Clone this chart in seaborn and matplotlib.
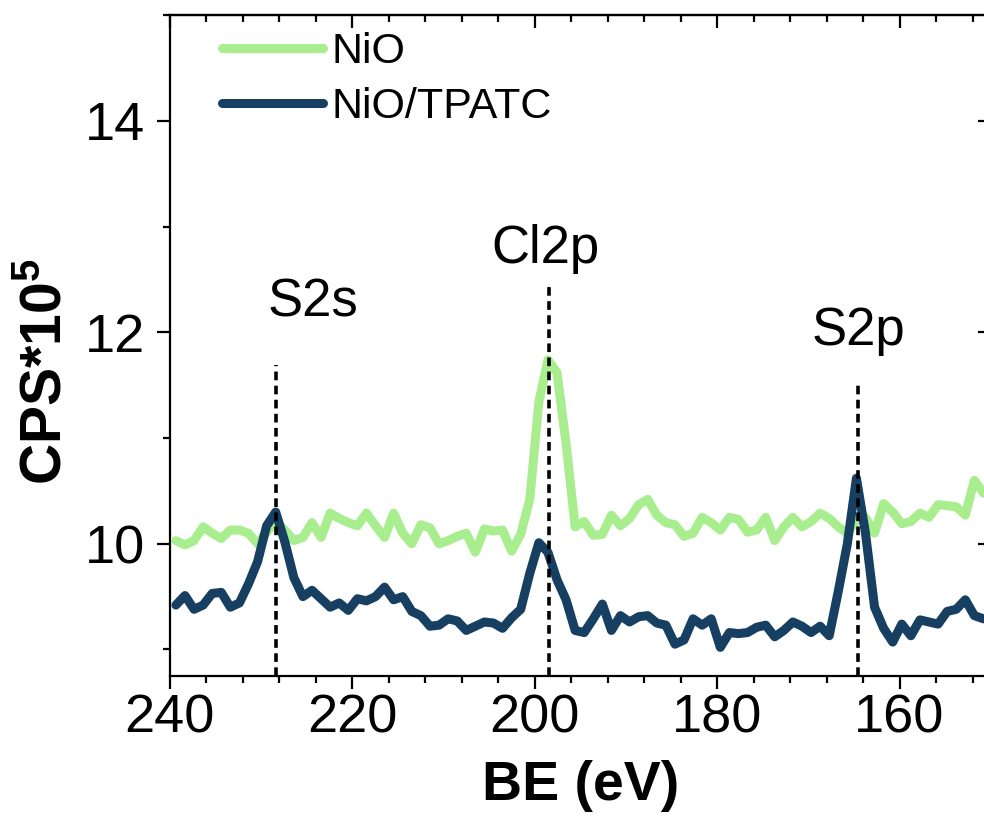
import numpy as np
import pandas as pd
import matplotlib
matplotlib.use("Agg")
import matplotlib.pyplot as plt
import seaborn as sns
from matplotlib.ticker import MultipleLocator

# ---------------- data ----------------
binding_energy = np.linspace(239.3, 150.8, 90)   # eV, measurement grid

nio_cps = [10.03, 9.99, 10.03, 10.16, 10.10, 10.05, 10.13, 10.13, 10.10, 10.00,
           10.11, 10.21, 10.13, 10.03, 10.06, 10.20, 10.06, 10.29, 10.24, 10.20,
           10.17, 10.29, 10.17, 10.06, 10.29, 10.10, 10.00, 10.18, 10.15, 10.00,
           10.03, 10.07, 10.10, 9.92, 10.14, 10.12, 10.13, 9.93, 10.09, 10.42,
           11.34, 11.74, 11.62, 10.95, 10.16, 10.21, 10.08, 10.09, 10.27, 10.17,
           10.24, 10.37, 10.42, 10.27, 10.20, 10.18, 10.07, 10.10, 10.25, 10.20,
           10.13, 10.25, 10.23, 10.11, 10.13, 10.25, 10.03, 10.16, 10.25, 10.16,
           10.21, 10.29, 10.24, 10.16, 10.10, 10.22, 10.25, 10.10, 10.38, 10.30,
           10.19, 10.21, 10.29, 10.25, 10.37, 10.36, 10.35, 10.27, 10.60, 10.48]

tpatc_cps = [9.42, 9.51, 9.38, 9.42, 9.53, 9.54, 9.40, 9.44, 9.62, 9.83,
             10.17, 10.30, 10.02, 9.68, 9.50, 9.56, 9.48, 9.40, 9.44, 9.37,
             9.48, 9.46, 9.50, 9.59, 9.47, 9.50, 9.36, 9.32, 9.22, 9.23,
             9.29, 9.27, 9.18, 9.22, 9.26, 9.25, 9.20, 9.30, 9.38, 9.72,
             10.01, 9.92, 9.66, 9.47, 9.18, 9.16, 9.29, 9.43, 9.18, 9.32,
             9.26, 9.31, 9.32, 9.25, 9.23, 9.05, 9.09, 9.29, 9.23, 9.29,
             9.02, 9.16, 9.15, 9.16, 9.21, 9.23, 9.12, 9.18, 9.26, 9.22,
             9.16, 9.22, 9.13, 9.55, 10.00, 10.62, 10.10, 9.40, 9.20, 9.07,
             9.24, 9.13, 9.28, 9.26, 9.24, 9.36, 9.38, 9.47, 9.32, 9.29]

series_names = ["NiO", "NiO/TPATC"]
series_colors = ["#A9EE8E", "#163F61"]

peak_labels = ["S2s", "Cl2p", "S2p"]
peak_be = [228.33, 198.41, 164.52]
peak_top = [11.69, 12.47, 11.54]
label_be = [224.3, 198.8, 164.45]
label_y = [12.15, 12.66, 11.88]

# ---------------- style ----------------
sns.set_theme(style="ticks")
plt.rcParams["font.family"] = ["Liberation Sans", "DejaVu Sans"]
plt.rcParams["mathtext.fontset"] = "custom"
plt.rcParams["mathtext.rm"] = "Liberation Sans"
plt.rcParams["mathtext.bf"] = "Liberation Sans:bold"
for key in ["text.color", "axes.labelcolor", "xtick.color", "ytick.color", "axes.edgecolor"]:
    plt.rcParams[key] = "black"

df = pd.concat([
    pd.DataFrame({"BE": binding_energy, "CPS": nio_cps, "sample": series_names[0]}),
    pd.DataFrame({"BE": binding_energy, "CPS": tpatc_cps, "sample": series_names[1]}),
], ignore_index=True)

fig = plt.figure(figsize=(9.84, 8.16), dpi=100)
ax = fig.add_axes([0.17226, 0.17169, 0.83460, 0.80962])

sns.lineplot(data=df, x="BE", y="CPS", hue="sample", hue_order=series_names,
             palette=dict(zip(series_names, series_colors)), sort=False,
             estimator=None, linewidth=6.5, ax=ax, legend=False)
for ln in ax.lines:
    ln.set_solid_capstyle("round")
    ln.set_solid_joinstyle("round")

ax.set_xlim(240, 150)
ax.set_ylim(8.75, 15.0)

# dashed peak markers
ax.vlines(peak_be, ymin=8.75, ymax=peak_top, colors="black",
          linestyles=[(0, (2.4, 1.5))], linewidth=2.6, zorder=5)
for lab, xb, yb in zip(peak_labels, label_be, label_y):
    ax.text(xb, yb, lab, fontsize=38, ha="center", va="baseline", color="black")

# ticks
ax.xaxis.set_major_locator(MultipleLocator(20))
ax.xaxis.set_minor_locator(MultipleLocator(4))
ax.yaxis.set_major_locator(MultipleLocator(2))
ax.yaxis.set_minor_locator(MultipleLocator(1))
ax.tick_params(axis="both", which="both", direction="out", top=False, right=False,
               width=1.6, colors="black", labelcolor="black")
ax.tick_params(axis="both", which="major", length=9.4, labelsize=39)
ax.tick_params(axis="both", which="minor", length=5)
ax.tick_params(axis="x", which="major", pad=3)
ax.tick_params(axis="y", which="major", pad=8)
ax.yaxis.set_major_formatter(matplotlib.ticker.FormatStrFormatter("%d"))

secx = ax.secondary_xaxis("top")
secx.xaxis.set_major_locator(MultipleLocator(20))
secx.xaxis.set_minor_locator(MultipleLocator(4))
secx.tick_params(axis="x", which="both", direction="in", labeltop=False, width=1.6,
                 colors="black")
secx.tick_params(axis="x", which="major", length=9.4)
secx.tick_params(axis="x", which="minor", length=5)
secx.spines["top"].set_linewidth(1.6)
secx.spines["top"].set_color("black")

secy = ax.secondary_yaxis("right")
secy.yaxis.set_major_locator(MultipleLocator(2))
secy.yaxis.set_minor_locator(MultipleLocator(1))
secy.tick_params(axis="y", which="both", direction="in", labelright=False, width=1.6,
                 colors="black")
secy.tick_params(axis="y", which="major", length=9.4)
secy.tick_params(axis="y", which="minor", length=5)

for sp in ax.spines.values():
    sp.set_linewidth(1.6)
    sp.set_color("black")

ax.set_xlabel("BE (eV)", fontsize=40, fontweight="bold", color="black")
ax.set_ylabel(r"CPS*10$^{\mathbf{5}}$", fontsize=41, fontweight="bold", color="black")
ax.xaxis.set_label_coords(0.5, -0.128)
ax.yaxis.set_label_coords(-0.117, 0.46)

leg = ax.legend(handles=ax.lines[:2], labels=series_names, loc="upper left",
                bbox_to_anchor=(0.064, 0.975), frameon=False, fontsize=31,
                handlelength=2.35, handletextpad=0.2, labelspacing=0.36,
                borderpad=0, borderaxespad=0)
for t in leg.get_texts():
    t.set_color("black")

fig.savefig("out.png", dpi=100)
